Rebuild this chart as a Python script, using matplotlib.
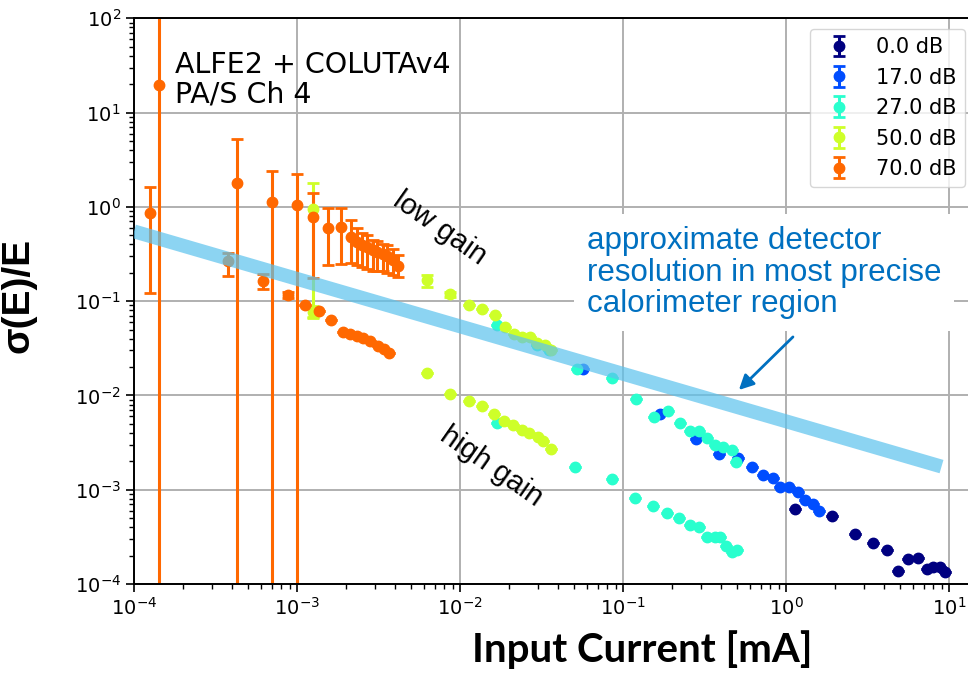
import numpy as np
import matplotlib
matplotlib.use('Agg')
import matplotlib.pyplot as plt
from matplotlib.ticker import LogLocator, NullFormatter

# ---- data (sigma(E)/E vs input current) ----
labels = ['0.0 dB', '17.0 dB', '27.0 dB', '50.0 dB', '70.0 dB']

x_0db = [1.135, 1.92, 2.65, 3.43, 4.19, 4.89, 5.62, 6.48, 7.30, 8.02, 8.81, 9.45]
y_0db = [6.2e-4, 5.3e-4, 3.4e-4, 2.75e-4, 2.3e-4, 1.39e-4, 1.83e-4, 1.91e-4,
         1.44e-4, 1.52e-4, 1.52e-4, 1.35e-4]

x_17db = [0.0566, 0.169, 0.281, 0.390, 0.510, 0.616, 0.726, 0.828, 0.92, 1.05,
          1.19, 1.31, 1.46, 1.60]
y_17db = [0.0191, 0.00637, 0.00346, 0.0024, 0.00217, 0.00173, 0.00144, 0.00133,
          0.00106, 0.00108, 0.000955, 0.00078, 0.00071, 0.0006]

# low gain then high gain
x_27db = [0.0168, 0.0296, 0.0352, 0.0519, 0.0859, 0.120, 0.156, 0.190, 0.224,
          0.258, 0.292, 0.326, 0.367, 0.412, 0.464, 0.497,
          0.0168, 0.0511, 0.0859, 0.119, 0.152, 0.1875, 0.221, 0.258, 0.292,
          0.326, 0.367, 0.394, 0.430, 0.468, 0.500]
y_27db = [0.056, 0.0345, 0.0300, 0.0192, 0.0153, 0.00925, 0.00585, 0.00681,
          0.00507, 0.00421, 0.00415, 0.00357, 0.00295, 0.00284, 0.00264, 0.00197,
          0.00515, 0.00173, 0.00129, 0.000809, 0.000668, 0.000564, 0.000499,
          0.000418, 0.000398, 0.000316, 0.000318, 0.000316, 0.000252, 0.000221,
          0.000231]

x_50db = [1.25e-3, 6.29e-3, 8.68e-3, 1.13e-2, 1.37e-2, 1.64e-2, 1.89e-2, 2.14e-2,
          2.40e-2, 2.69e-2, 2.96e-2, 3.32e-2, 3.61e-2,
          1.25e-3, 6.29e-3, 8.68e-3, 1.13e-2, 1.37e-2, 1.62e-2, 1.86e-2, 2.13e-2,
          2.39e-2, 2.65e-2, 2.99e-2, 3.24e-2, 3.61e-2]
y_50db = [0.944, 0.168, 0.118, 0.090, 0.0826, 0.0714, 0.0532, 0.0449, 0.0421,
          0.0414, 0.0358, 0.0345, 0.0304,
          0.0775, 0.01718, 0.01045, 0.00875, 0.00774, 0.00637, 0.00532, 0.00492,
          0.00434, 0.00397, 0.00363, 0.00332, 0.00271]
# error bar ends (low / high); equal to y where no bar is visible
lo_50db = [0.066, 0.14, 0.11] + y_50db[3:13] + [0.068] + y_50db[14:]
hi_50db = [1.81, 0.19, 0.125] + y_50db[3:13] + [0.088] + y_50db[14:]

x_70db = [1.26e-4, 1.42e-4, 3.76e-4, 4.27e-4, 6.21e-4, 7.05e-4, 8.84e-4, 1.00e-3,
          1.12e-3, 1.25e-3, 1.36e-3, 1.56e-3, 1.62e-3, 1.85e-3, 1.91e-3, 2.11e-3,
          2.14e-3, 2.32e-3, 2.32e-3, 2.49e-3, 2.55e-3, 2.70e-3, 2.79e-3, 2.91e-3,
          3.11e-3, 3.15e-3, 3.35e-3, 3.41e-3, 3.58e-3, 3.67e-3, 3.90e-3, 4.18e-3]
y_70db = [0.855, 19.6, 0.267, 1.81, 0.164, 1.14, 0.116, 1.05,
          0.0912, 0.787, 0.079, 0.60, 0.0633, 0.617, 0.0475, 0.0449,
          0.476, 0.428, 0.0431, 0.394, 0.041, 0.378, 0.0381, 0.349,
          0.335, 0.0337, 0.317, 0.0309, 0.301, 0.0284, 0.273, 0.236]
lo_70db = [0.121, 1e-6, 0.185, 1e-6, 0.135, 1e-6, 0.107, 1e-6,
           0.0912, 0.175, 0.079, 0.24, 0.0633, 0.25, 0.0475, 0.0449,
           0.252, 0.24, 0.0431, 0.228, 0.041, 0.22, 0.0381, 0.21,
           0.21, 0.0337, 0.21, 0.0309, 0.20, 0.0284, 0.19, 0.18]
hi_70db = [1.61, 300.0, 0.322, 5.2, 0.193, 2.42, 0.126, 2.22,
           0.0912, 1.39, 0.079, 0.97, 0.0633, 0.97, 0.0475, 0.0449,
           0.726, 0.60, 0.0431, 0.527, 0.041, 0.50, 0.0381, 0.45,
           0.43, 0.0337, 0.40, 0.0309, 0.39, 0.0284, 0.36, 0.31]

# approximate detector resolution band (end points)
band_x = [1.0e-4, 9.0]
band_y = [0.55, 0.00176]

series = [
    (x_0db, y_0db, y_0db, y_0db),
    (x_17db, y_17db, y_17db, y_17db),
    (x_27db, y_27db, y_27db, y_27db),
    (x_50db, y_50db, lo_50db, hi_50db),
    (x_70db, y_70db, lo_70db, hi_70db),
]
colors = plt.cm.jet(np.linspace(0, 0.8, 5))

fig = plt.figure(figsize=(9.68, 6.74), dpi=100)
ax = fig.add_axes([0.1384, 0.1335, 0.8716, 0.8393])

for (xs, ys, lo, hi), c, lab in zip(series, colors, labels):
    xs, ys, lo, hi = map(np.array, (xs, ys, lo, hi))
    ax.errorbar(xs, ys, yerr=[ys - lo, hi - ys], fmt='o', color=c, ms=7.5,
                elinewidth=2.2, capsize=4, capthick=2.0, label=lab)

ax.plot(band_x, band_y, color=(0.36, 0.76, 0.93), alpha=0.7, lw=10,
        solid_capstyle='butt', zorder=5)

ax.set_xscale('log')
ax.set_yscale('log')
ax.set_xlim(1e-4, 15)
ax.set_ylim(1e-4, 1e2)
ax.xaxis.set_major_locator(LogLocator(base=10, numticks=20))
ax.yaxis.set_major_locator(LogLocator(base=10, numticks=20))
for axis in (ax.xaxis, ax.yaxis):
    axis.set_minor_locator(LogLocator(base=10, subs=np.arange(2, 10), numticks=20))
    axis.set_minor_formatter(NullFormatter())
ax.tick_params(which='major', labelsize=14, length=6, width=1.2)
ax.tick_params(which='minor', length=3.5, width=1.0)
ax.grid(True, which='major', color='#b0b0b0', lw=1.4)
for s in ax.spines.values():
    s.set_linewidth(1.4)

ax.set_xlabel('Input Current [mA]', fontsize=29, fontweight='bold',
              family='Lato')
ax.xaxis.set_label_coords(0.602, -0.082)
ax.set_ylabel('σ(E)/E', fontsize=28, fontweight='bold',
              family='Liberation Sans')
ax.yaxis.set_label_coords(-0.115, 0.51)

ax.text(1.78e-4, 45, 'ALFE2 + COLUTAv4\nPA/S Ch 4', fontsize=20.5, va='top',
        ha='left', linespacing=1.05)
ax.text(7.5e-3, 0.60, 'low gain', fontsize=21, rotation=-35, ha='center',
        va='center', family='Liberation Sans')
ax.text(1.57e-2, 0.00175, 'high gain', fontsize=21, rotation=-35, ha='center',
        va='center', family='Liberation Sans')
ax.text(0.0601, 0.62, 'approximate detector\nresolution in most precise\ncalorimeter region',
        fontsize=22.5, color='#0070c0', va='top', ha='left', linespacing=1.05,
        family='Liberation Sans', zorder=6,
        bbox=dict(facecolor='white', edgecolor='none', pad=9))
ax.annotate('', xy=(0.50, 0.0109), xytext=(1.135, 0.0438),
            arrowprops=dict(arrowstyle='-|>', color='#0070c0', lw=2,
                            mutation_scale=22), zorder=7)

ax.legend(loc='upper right', bbox_to_anchor=(965 / 968, 1 - 29 / 674),
          bbox_transform=fig.transFigure, borderaxespad=0, fontsize=15)

fig.savefig('out.png', dpi=100)
